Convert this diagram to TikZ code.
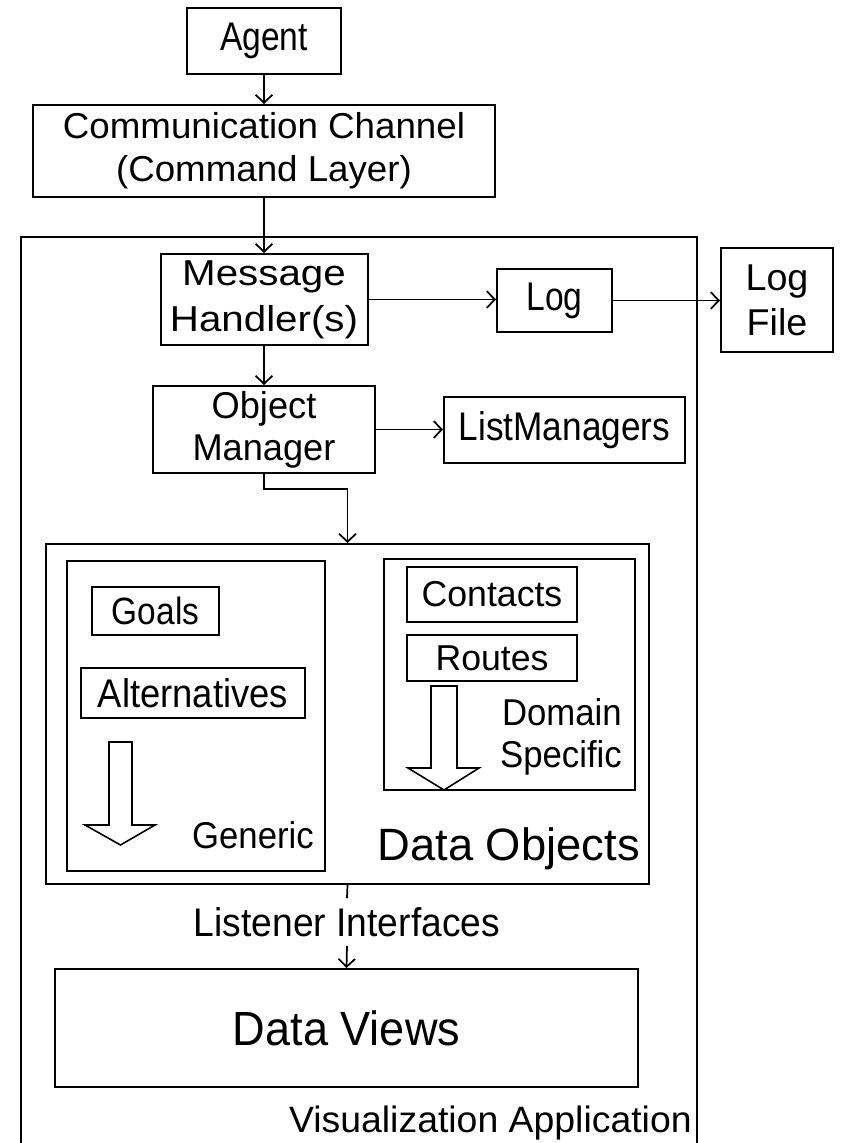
\documentclass[tikz,border=0pt]{standalone}
\usepackage{fontspec}
\setmainfont{Liberation Sans}
\usetikzlibrary{arrows.meta}
% size, line spacing, horizontal stretch
\newcommand\txf[3]{\fontsize{#1pt}{#2pt}\selectfont\addfontfeature{FakeStretch=#3}}

\begin{document}
\begin{tikzpicture}[x=0.75pt, y=-0.75pt,
  box/.style={draw, line width=1.5pt, inner sep=0pt, align=center},
  sz/.style 2 args={minimum width=#1*0.75pt, minimum height=#2*0.75pt},
  con/.style={line width=1.3pt},
  arr/.style={con, -{Straight Barb[length=6pt,width=12.5pt]}},
  blk/.style={draw, line width=1.2pt, line join=miter}]

\fill[white] (0,0) rectangle (846,1143);
\useasboundingbox (0,0) rectangle (846,1143);

% top chain
\node[box, sz={154}{66}, font=\txf{30}{34}{0.84}] (agent) at (264,41) {Agent};
\node[box, sz={462}{92}, font=\txf{27}{32}{1.02}] (comm) at (264,151)
  {Communication Channel\\(Command Layer)};

% application frame
\node[box, sz={676}{910}] (app) at (359,692) {};
\node[font=\txf{27.5}{30}{1.02}, anchor=base east, inner sep=0pt] (appname) at (692,1132)
  {Visualization Application};

\node[box, sz={207}{91}, font=\txf{27}{34.5}{1.12}] (mh) at (264,299.5) {Message\\Handler(s)};
\node[box, sz={115}{63}, font=\txf{30}{34}{0.84}] (log) at (554.5,300.5) {Log};
\node[box, sz={112}{104}, font=\txf{28}{34}{1.01}] (logfile) at (777,300) {Log\\File};
\node[box, sz={222}{87}, font=\txf{28}{31.5}{0.97}] (om) at (264,429.5) {Object\\Manager};
\node[box, sz={241}{66}, font=\txf{30}{34}{0.88}] (lm) at (564.5,430) {ListManagers};

% data objects
\node[box, sz={603}{340}] (dobj) at (347.5,714) {};
\node[font=\txf{34}{38}{1.0}, anchor=base east, inner sep=0pt] (dobjname) at (640,860) {Data Objects};

\node[box, sz={258}{310}] (gen) at (196,716) {};
\node[box, sz={127}{48}, font=\txf{28.5}{32}{0.88}] (goals) at (155.5,611) {Goals};
\node[box, sz={224}{50}, font=\txf{30}{34}{0.91}] (alt) at (193,693) {Alternatives};
\node[font=\txf{28}{31}{0.93}, anchor=base east, inner sep=0pt] (genname) at (314,848) {Generic};
\draw[blk] (109,742) -- (132,742) -- (132,825) -- (155,825) -- (120.5,845)
  -- (85,825) -- (109,825) -- cycle;

\node[box, sz={251}{231}] (dom) at (509.5,674.5) {};
\node[box, sz={170}{55}, font=\txf{27}{30}{0.99}] (contacts) at (492,594.5) {Contacts};
\node[box, sz={170}{46}, font=\txf{27}{30}{0.99}] (routes) at (492,658) {Routes};
\node[font=\txf{28}{32}{0.93}, align=right, anchor=east, inner sep=0pt] (domname) at (622,737)
  {Domain\\Specific};
\draw[blk] (431,686) -- (457,686) -- (457,768) -- (479,768) -- (444,790)
  -- (408,768) -- (431,768) -- cycle;

% views
\node[font=\txf{30}{34}{0.93}, sz={0}{47}, inner sep=0pt] (li) at (347,922) {Listener Interfaces};
\node[box, sz={583}{118}, font=\txf{36}{40}{0.94}] (dviews) at (346.5,1028) {Data Views};

% connectors
\draw[arr] (agent) -- (comm);
\draw[arr] (comm) -- (mh);
\draw[arr] (mh.east) -- (mh.east -| log.west);
\draw[arr] (log.east) -- (log.east -| logfile.west);
\draw[arr] (mh) -- (om);
\draw[arr] (om.east) -- (om.east -| lm.west);
\draw[arr] (om.south) -- ++(0,15) -| (dobj.north);
\draw[con] (dobj.south) -- (li.north);
\draw[arr] (li.south) -- (dviews.north);
\end{tikzpicture}
\end{document}
